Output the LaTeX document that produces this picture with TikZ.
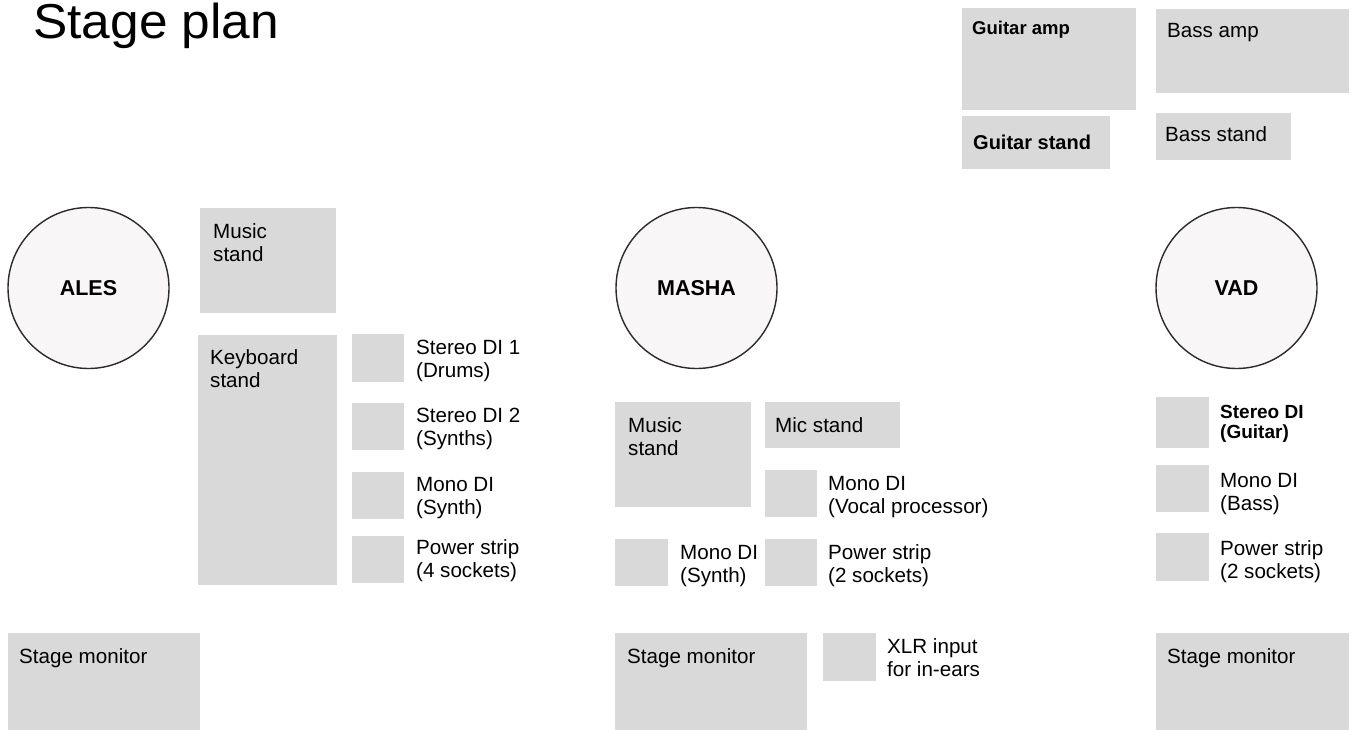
\documentclass[tikz,border=0pt]{standalone}
\usepackage{fontspec}
\setmainfont{Liberation Sans}
\definecolor{boxgray}{HTML}{D9D9D9}
\definecolor{personfill}{HTML}{F8F6F7}
\definecolor{personline}{HTML}{2B2B2B}
\newcommand{\twol}[2]{\begin{tabular}[t]{@{}l@{}}#1\\#2\end{tabular}}
\begin{document}
\begin{tikzpicture}[x=1pt,y=-1pt,
  gbox/.style={fill=boxgray},
  lbl/.style={anchor=base west, inner sep=0pt, font=\fontsize{20.6}{23.5}\selectfont},
  blbl/.style={anchor=base west, inner sep=0pt, font=\fontsize{19}{20.5}\selectfont\bfseries},
  person/.style={circle, draw=personline, line width=1.4pt, fill=personfill,
    minimum size=161pt, inner sep=0pt, font=\fontsize{21.5}{24}\selectfont\bfseries}]
\useasboundingbox (0,0) rectangle (1351,730);

% title
\node[anchor=base west, inner sep=0pt, xscale=1.05, font=\fontsize{49}{56}\selectfont] (title) at (33,38.5) {Stage plan};

% top right
\fill[gbox] (962,8) rectangle (1136,110);
\node[blbl, font=\fontsize{18.5}{20}\selectfont\bfseries] (gamp) at (972,35) {Guitar amp};
\fill[gbox] (1156,9) rectangle (1349,93);
\node[lbl] (bamp) at (1167,38) {Bass amp};
\fill[gbox] (962,116) rectangle (1110,169);
\node[blbl, font=\fontsize{20}{22}\selectfont\bfseries] (gstand) at (973,150) {Guitar stand};
\fill[gbox] (1156,113) rectangle (1291,160);
\node[lbl] (bstand) at (1165,142) {Bass stand};

% ALES
\node[person] (ales) at (88.5,288) {ALES};
\fill[gbox] (200,208) rectangle (336,313);
\node[lbl] (msL) at (213,238) {\twol{Music}{stand}};
\fill[gbox] (198,335) rectangle (337,585);
\node[lbl] (kbs) at (210,364) {\twol{Keyboard}{stand}};
\fill[gbox] (352,334) rectangle (404,382);
\node[lbl] (sdi1) at (416,354) {\twol{Stereo DI 1}{(Drums)}};
\fill[gbox] (352,403) rectangle (404,450);
\node[lbl] (sdi2) at (416,422) {\twol{Stereo DI 2}{(Synths)}};
\fill[gbox] (352,472) rectangle (404,519);
\node[lbl] (mdiL) at (416,491) {\twol{Mono DI}{(Synth)}};
\fill[gbox] (352,536) rectangle (404,583);
\node[lbl] (psL) at (416,554) {\twol{Power strip}{(4 sockets)}};
\fill[gbox] (8,633) rectangle (200,730);
\node[lbl] (smL) at (19,663) {Stage monitor};

% MASHA
\node[person] (masha) at (696.5,288) {MASHA};
\fill[gbox] (615,402) rectangle (751,507);
\node[lbl] (msM) at (628,432) {\twol{Music}{stand}};
\fill[gbox] (765,402) rectangle (900,448);
\node[lbl] (mic) at (775,432) {Mic stand};
\fill[gbox] (765,470) rectangle (817,517);
\node[lbl] (mdiV) at (828,490) {\twol{Mono DI}{(Vocal processor)}};
\fill[gbox] (615,539) rectangle (668,586);
\node[lbl] (mdiM) at (680,559) {\twol{Mono DI}{(Synth)}};
\fill[gbox] (765,539) rectangle (817,586);
\node[lbl] (psM) at (828,559) {\twol{Power strip}{(2 sockets)}};
\fill[gbox] (615,633) rectangle (807,730);
\node[lbl] (smM) at (627,663) {Stage monitor};
\fill[gbox] (823,633) rectangle (876,681);
\node[lbl] (xlr) at (887,653) {\twol{XLR input}{for in-ears}};

% VAD
\node[person] (vad) at (1236.5,288) {VAD};
\fill[gbox] (1156,397) rectangle (1209,448);
\node[blbl] (sdiG) at (1220,418) {\twol{Stereo DI}{(Guitar)}};
\fill[gbox] (1156,465) rectangle (1209,512);
\node[lbl] (mdiB) at (1220,487) {\twol{Mono DI}{(Bass)}};
\fill[gbox] (1156,533) rectangle (1209,581);
\node[lbl] (psR) at (1220,555) {\twol{Power strip}{(2 sockets)}};
\fill[gbox] (1156,633) rectangle (1349,730);
\node[lbl] (smR) at (1167,663) {Stage monitor};
\end{tikzpicture}
\end{document}
